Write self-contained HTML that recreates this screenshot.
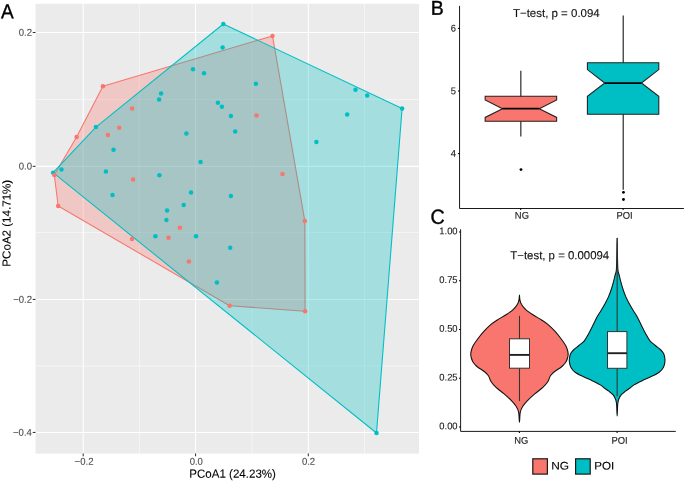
<!DOCTYPE html>
<html><head><meta charset="utf-8"><title>PCoA</title><style>
html,body{margin:0;padding:0;background:#fff;}
body{width:685px;height:481px;overflow:hidden;}
svg{display:block;will-change:transform;}
text{font-family:"Liberation Sans",sans-serif;text-rendering:geometricPrecision;font-kerning:none;}
.tk{fill:#4D4D4D;stroke:#4D4D4D;stroke-width:0.12px;}
.tkb{fill:#1a1a1a;stroke:#1a1a1a;stroke-width:0.12px;}
.ttl{fill:#000;stroke:#000;stroke-width:0.1px;}
.lbl{fill:#000;stroke:#000;stroke-width:0.35px;}
.ann{fill:#111;stroke:#111;stroke-width:0.12px;}
.leg{fill:#000;stroke:#000;stroke-width:0.12px;}
</style></head>
<body>
<svg width="685" height="481" viewBox="0 0 685 481">
<rect x="35.5" y="3.8" width="383.50" height="449.80" fill="#EBEBEB"/>
<line x1="139.40" y1="3.8" x2="139.40" y2="453.6" stroke="#fff" stroke-width="0.53"/>
<line x1="251.95" y1="3.8" x2="251.95" y2="453.6" stroke="#fff" stroke-width="0.53"/>
<line x1="364.45" y1="3.8" x2="364.45" y2="453.6" stroke="#fff" stroke-width="0.53"/>
<line x1="35.5" y1="99.45" x2="419.0" y2="99.45" stroke="#fff" stroke-width="0.53"/>
<line x1="35.5" y1="232.55" x2="419.0" y2="232.55" stroke="#fff" stroke-width="0.53"/>
<line x1="35.5" y1="366.00" x2="419.0" y2="366.00" stroke="#fff" stroke-width="0.53"/>
<line x1="83.20" y1="3.8" x2="83.20" y2="453.6" stroke="#fff" stroke-width="1.07"/>
<line x1="195.55" y1="3.8" x2="195.55" y2="453.6" stroke="#fff" stroke-width="1.07"/>
<line x1="308.30" y1="3.8" x2="308.30" y2="453.6" stroke="#fff" stroke-width="1.07"/>
<line x1="35.5" y1="32.50" x2="419.0" y2="32.50" stroke="#fff" stroke-width="1.07"/>
<line x1="35.5" y1="166.35" x2="419.0" y2="166.35" stroke="#fff" stroke-width="1.07"/>
<line x1="35.5" y1="299.45" x2="419.0" y2="299.45" stroke="#fff" stroke-width="1.07"/>
<line x1="35.5" y1="432.45" x2="419.0" y2="432.45" stroke="#fff" stroke-width="1.07"/>
<polygon points="102.90,86.20 76.60,137.10 54.30,175.00 58.20,206.00 229.60,305.70 305.10,311.30 304.80,220.90 272.50,35.90" fill="#F8766D" fill-opacity="0.3" stroke="#F8766D" stroke-width="1.07" stroke-linejoin="round"/>
<polygon points="223.30,24.00 402.10,108.40 376.50,433.00 53.10,172.70 95.90,127.10" fill="#00BFC4" fill-opacity="0.3" stroke="#00BFC4" stroke-width="1.07" stroke-linejoin="round"/>
<circle cx="223.3" cy="24.0" r="2.25" fill="#00BFC4"/>
<circle cx="402.1" cy="108.4" r="2.25" fill="#00BFC4"/>
<circle cx="376.5" cy="433.0" r="2.25" fill="#00BFC4"/>
<circle cx="53.1" cy="172.7" r="2.25" fill="#00BFC4"/>
<circle cx="95.9" cy="127.1" r="2.25" fill="#00BFC4"/>
<circle cx="61.5" cy="169.5" r="2.25" fill="#00BFC4"/>
<circle cx="113.5" cy="149.8" r="2.25" fill="#00BFC4"/>
<circle cx="159.1" cy="99.5" r="2.25" fill="#00BFC4"/>
<circle cx="161.1" cy="93.5" r="2.25" fill="#00BFC4"/>
<circle cx="186.4" cy="133.4" r="2.25" fill="#00BFC4"/>
<circle cx="193" cy="69.2" r="2.25" fill="#00BFC4"/>
<circle cx="222.6" cy="47.6" r="2.25" fill="#00BFC4"/>
<circle cx="204" cy="73.2" r="2.25" fill="#00BFC4"/>
<circle cx="255.9" cy="83.8" r="2.25" fill="#00BFC4"/>
<circle cx="217.9" cy="102.8" r="2.25" fill="#00BFC4"/>
<circle cx="221.9" cy="106.8" r="2.25" fill="#00BFC4"/>
<circle cx="230.9" cy="116.1" r="2.25" fill="#00BFC4"/>
<circle cx="235.2" cy="131.4" r="2.25" fill="#00BFC4"/>
<circle cx="316.4" cy="142" r="2.25" fill="#00BFC4"/>
<circle cx="355.5" cy="89.8" r="2.25" fill="#00BFC4"/>
<circle cx="367.2" cy="95.4" r="2.25" fill="#00BFC4"/>
<circle cx="347.2" cy="114.4" r="2.25" fill="#00BFC4"/>
<circle cx="105.9" cy="171.6" r="2.25" fill="#00BFC4"/>
<circle cx="159.4" cy="175.3" r="2.25" fill="#00BFC4"/>
<circle cx="112.5" cy="194.9" r="2.25" fill="#00BFC4"/>
<circle cx="191" cy="192.6" r="2.25" fill="#00BFC4"/>
<circle cx="183.7" cy="204.9" r="2.25" fill="#00BFC4"/>
<circle cx="167.1" cy="210.5" r="2.25" fill="#00BFC4"/>
<circle cx="166.4" cy="219.9" r="2.25" fill="#00BFC4"/>
<circle cx="155.4" cy="236.2" r="2.25" fill="#00BFC4"/>
<circle cx="200.6" cy="162" r="2.25" fill="#00BFC4"/>
<circle cx="230.9" cy="195.9" r="2.25" fill="#00BFC4"/>
<circle cx="196" cy="236.2" r="2.25" fill="#00BFC4"/>
<circle cx="230.2" cy="247.8" r="2.25" fill="#00BFC4"/>
<circle cx="216.9" cy="282.4" r="2.25" fill="#00BFC4"/>
<circle cx="102.9" cy="86.2" r="2.25" fill="#F8766D"/>
<circle cx="76.6" cy="137.1" r="2.25" fill="#F8766D"/>
<circle cx="54.3" cy="175.0" r="2.25" fill="#F8766D"/>
<circle cx="58.2" cy="206.0" r="2.25" fill="#F8766D"/>
<circle cx="229.6" cy="305.7" r="2.25" fill="#F8766D"/>
<circle cx="305.1" cy="311.3" r="2.25" fill="#F8766D"/>
<circle cx="304.8" cy="220.9" r="2.25" fill="#F8766D"/>
<circle cx="272.5" cy="35.9" r="2.25" fill="#F8766D"/>
<circle cx="107.9" cy="135.1" r="2.25" fill="#F8766D"/>
<circle cx="119.2" cy="127.7" r="2.25" fill="#F8766D"/>
<circle cx="132.1" cy="108.4" r="2.25" fill="#F8766D"/>
<circle cx="133.1" cy="179.6" r="2.25" fill="#F8766D"/>
<circle cx="132" cy="239" r="2.25" fill="#F8766D"/>
<circle cx="168.5" cy="237.7" r="2.25" fill="#F8766D"/>
<circle cx="179.9" cy="227.8" r="2.25" fill="#F8766D"/>
<circle cx="188.9" cy="261.5" r="2.25" fill="#F8766D"/>
<circle cx="256.5" cy="115.4" r="2.25" fill="#F8766D"/>
<circle cx="282.5" cy="174" r="2.25" fill="#F8766D"/>
<line x1="32.75" y1="32.50" x2="35.5" y2="32.50" stroke="#333333" stroke-width="1.07"/>
<line x1="32.75" y1="166.35" x2="35.5" y2="166.35" stroke="#333333" stroke-width="1.07"/>
<line x1="32.75" y1="299.45" x2="35.5" y2="299.45" stroke="#333333" stroke-width="1.07"/>
<line x1="32.75" y1="432.45" x2="35.5" y2="432.45" stroke="#333333" stroke-width="1.07"/>
<line x1="83.20" y1="453.6" x2="83.20" y2="456.35" stroke="#333333" stroke-width="1.07"/>
<line x1="195.55" y1="453.6" x2="195.55" y2="456.35" stroke="#333333" stroke-width="1.07"/>
<line x1="308.30" y1="453.6" x2="308.30" y2="456.35" stroke="#333333" stroke-width="1.07"/>
<text class="tk" font-size="9.860" transform="matrix(0.9700,0.0005,0,1,18.81,35.70)">0.2</text>
<text class="tk" font-size="9.860" transform="matrix(0.9700,0.0005,0,1,18.72,169.55)">0.0</text>
<text class="tk" font-size="9.860" transform="matrix(0.9700,0.0005,0,1,13.22,302.65)">−0.2</text>
<text class="tk" font-size="9.860" transform="matrix(0.9700,0.0005,0,1,13.03,435.65)">−0.4</text>
<text class="tk" font-size="9.860" transform="matrix(0.9700,0.0005,0,1,74.61,464.75)">−0.2</text>
<text class="tk" font-size="9.860" transform="matrix(0.9700,0.0005,0,1,189.65,464.75)">0.0</text>
<text class="tk" font-size="9.860" transform="matrix(0.9700,0.0005,0,1,301.90,464.75)">0.2</text>
<text class="ttl" font-size="11.884" transform="matrix(0.9729,0.0005,0,1,189.27,477.75)">PCoA1 (24.23%)</text>
<text class="ttl" font-size="11.594" transform="matrix(0.0005,-0.9996,1,0,10.45,266.63)">PCoA2 (14.71%)</text>
<text class="lbl" font-size="20.232" transform="matrix(0.9406,0.0005,0,1,0.97,18.33)">A</text>
<text class="lbl" font-size="19.942" transform="matrix(0.9804,0.0005,0,1,430.71,14.83)">B</text>
<line x1="520.85" y1="70.8" x2="520.85" y2="136.4" stroke="#111" stroke-width="1.07"/>
<polygon points="485.15,96.20 556.65,96.20 556.65,100.00 539.25,108.70 556.65,117.40 556.65,121.20 485.15,121.20 485.15,117.40 502.55,108.70 485.15,100.00" fill="#F8766D" stroke="#222" stroke-width="1.07" stroke-linejoin="miter"/><line x1="502.55" y1="108.7" x2="539.25" y2="108.7" stroke="#000" stroke-width="1.75"/>
<circle cx="521.0" cy="169.6" r="1.45" fill="#000"/>
<line x1="623.2" y1="15.4" x2="623.2" y2="189.7" stroke="#111" stroke-width="1.07"/>
<polygon points="587.40,62.70 658.80,62.70 658.80,69.60 641.45,83.00 658.80,96.20 658.80,114.20 587.40,114.20 587.40,96.20 604.75,83.00 587.40,69.60" fill="#00BFC4" stroke="#222" stroke-width="1.07" stroke-linejoin="miter"/><line x1="604.75" y1="83.0" x2="641.45" y2="83.0" stroke="#000" stroke-width="1.75"/>
<circle cx="623.45" cy="192.35" r="1.45" fill="#000"/>
<circle cx="623.45" cy="199.55" r="1.45" fill="#000"/>
<path d="M459.55,5.9 V208.5 H683.9" fill="none" stroke="#1a1a1a" stroke-width="1.0" stroke-linejoin="miter"/>
<line x1="457.95" y1="153.60" x2="459.55" y2="153.60" stroke="#000" stroke-width="1.07"/>
<line x1="457.95" y1="91.00" x2="459.55" y2="91.00" stroke="#000" stroke-width="1.07"/>
<line x1="457.95" y1="28.40" x2="459.55" y2="28.40" stroke="#000" stroke-width="1.07"/>
<line x1="520.7" y1="208.5" x2="520.7" y2="210.10" stroke="#000" stroke-width="1.07"/>
<line x1="623.1" y1="208.5" x2="623.1" y2="210.10" stroke="#000" stroke-width="1.07"/>
<text class="tkb" font-size="9.750" transform="matrix(0.9650,0.0005,0,1,450.87,31.55)">6</text>
<text class="tkb" font-size="9.750" transform="matrix(0.9650,0.0005,0,1,450.82,94.15)">5</text>
<text class="tkb" font-size="9.750" transform="matrix(0.9650,0.0005,0,1,450.73,156.75)">4</text>
<text class="tkb" font-size="9.750" transform="matrix(0.9650,0.0005,0,1,514.87,218.80)">NG</text>
<text class="tkb" font-size="9.750" transform="matrix(0.9650,0.0005,0,1,616.41,218.80)">POI</text>
<text class="ann" font-size="11.449" transform="matrix(1.0043,0.0005,0,1,512.91,16.95)">T−test, p = 0.094</text>
<text class="lbl" font-size="20.366" transform="matrix(0.9711,0.0005,0,1,430.38,223.83)">C</text>
<path d="M519.45,295.00 C519.55,295.00 519.60,297.60 519.75,298.70 C519.90,299.80 520.17,300.87 520.35,301.60 C520.53,302.33 520.40,302.25 520.85,303.10 C521.30,303.95 522.05,305.45 523.05,306.70 C524.05,307.95 525.13,309.22 526.85,310.60 C528.57,311.98 530.90,313.43 533.35,315.00 C535.80,316.57 539.08,318.40 541.55,320.00 C544.02,321.60 545.93,322.73 548.15,324.60 C550.37,326.47 552.67,328.80 554.85,331.20 C557.03,333.60 559.45,336.60 561.25,339.00 C563.05,341.40 564.62,343.77 565.65,345.60 C566.68,347.43 567.03,348.60 567.45,350.00 C567.87,351.40 568.13,352.67 568.15,354.00 C568.17,355.33 567.90,356.72 567.55,358.00 C567.20,359.28 566.65,360.62 566.05,361.70 C565.45,362.78 564.78,363.58 563.95,364.50 C563.12,365.42 562.60,366.03 561.05,367.20 C559.50,368.37 556.42,370.08 554.65,371.50 C552.88,372.92 551.57,374.03 550.45,375.70 C549.33,377.37 549.22,379.55 547.95,381.50 C546.68,383.45 545.00,385.38 542.85,387.40 C540.70,389.42 537.65,391.37 535.05,393.60 C532.45,395.83 529.32,398.65 527.25,400.80 C525.18,402.95 523.82,404.58 522.65,406.50 C521.48,408.42 520.78,409.67 520.25,412.30 C519.72,414.93 519.72,422.30 519.45,422.30 C519.18,422.30 519.18,414.93 518.65,412.30 C518.12,409.67 517.42,408.42 516.25,406.50 C515.08,404.58 513.72,402.95 511.65,400.80 C509.58,398.65 506.45,395.83 503.85,393.60 C501.25,391.37 498.20,389.42 496.05,387.40 C493.90,385.38 492.22,383.45 490.95,381.50 C489.68,379.55 489.57,377.37 488.45,375.70 C487.33,374.03 486.02,372.92 484.25,371.50 C482.48,370.08 479.40,368.37 477.85,367.20 C476.30,366.03 475.78,365.42 474.95,364.50 C474.12,363.58 473.45,362.78 472.85,361.70 C472.25,360.62 471.70,359.28 471.35,358.00 C471.00,356.72 470.73,355.33 470.75,354.00 C470.77,352.67 471.03,351.40 471.45,350.00 C471.87,348.60 472.22,347.43 473.25,345.60 C474.28,343.77 475.85,341.40 477.65,339.00 C479.45,336.60 481.87,333.60 484.05,331.20 C486.23,328.80 488.53,326.47 490.75,324.60 C492.97,322.73 494.88,321.60 497.35,320.00 C499.82,318.40 503.10,316.57 505.55,315.00 C508.00,313.43 510.33,311.98 512.05,310.60 C513.77,309.22 514.85,307.95 515.85,306.70 C516.85,305.45 517.60,303.95 518.05,303.10 C518.50,302.25 518.37,302.33 518.55,301.60 C518.73,300.87 519.00,299.80 519.15,298.70 C519.30,297.60 519.35,295.00 519.45,295.00Z" fill="#F8766D" stroke="#111" stroke-width="1.07" stroke-linejoin="round"/>
<path d="M617.15,238.00 C617.25,238.00 617.32,250.67 617.45,256.00 C617.58,261.33 617.67,266.83 617.95,270.00 C618.23,273.17 618.68,273.07 619.15,275.00 C619.62,276.93 620.07,279.10 620.75,281.60 C621.43,284.10 622.42,287.50 623.25,290.00 C624.08,292.50 624.78,294.40 625.75,296.60 C626.72,298.80 627.85,300.97 629.05,303.20 C630.25,305.43 631.60,307.75 632.95,310.00 C634.30,312.25 635.77,314.20 637.15,316.70 C638.53,319.20 639.87,322.23 641.25,325.00 C642.63,327.77 644.00,330.67 645.45,333.30 C646.90,335.93 648.30,338.77 649.95,340.80 C651.60,342.83 653.53,343.97 655.35,345.50 C657.17,347.03 659.50,348.70 660.85,350.00 C662.20,351.30 662.83,352.20 663.45,353.30 C664.07,354.40 664.30,355.22 664.55,356.60 C664.80,357.98 665.15,359.80 664.95,361.60 C664.75,363.40 664.32,365.63 663.35,367.40 C662.38,369.17 661.17,370.67 659.15,372.20 C657.13,373.73 654.08,375.18 651.25,376.60 C648.42,378.02 645.03,379.32 642.15,380.70 C639.27,382.08 636.03,383.65 633.95,384.90 C631.87,386.15 631.07,387.15 629.65,388.20 C628.23,389.25 626.87,390.08 625.45,391.20 C624.03,392.32 622.23,393.65 621.15,394.90 C620.07,396.15 619.52,397.23 618.95,398.70 C618.38,400.17 618.05,400.82 617.75,403.70 C617.45,406.58 617.35,416.00 617.15,416.00 C616.95,416.00 616.85,406.58 616.55,403.70 C616.25,400.82 615.92,400.17 615.35,398.70 C614.78,397.23 614.23,396.15 613.15,394.90 C612.07,393.65 610.27,392.32 608.85,391.20 C607.43,390.08 606.07,389.25 604.65,388.20 C603.23,387.15 602.43,386.15 600.35,384.90 C598.27,383.65 595.03,382.08 592.15,380.70 C589.27,379.32 585.88,378.02 583.05,376.60 C580.22,375.18 577.17,373.73 575.15,372.20 C573.13,370.67 571.92,369.17 570.95,367.40 C569.98,365.63 569.55,363.40 569.35,361.60 C569.15,359.80 569.50,357.98 569.75,356.60 C570.00,355.22 570.23,354.40 570.85,353.30 C571.47,352.20 572.10,351.30 573.45,350.00 C574.80,348.70 577.13,347.03 578.95,345.50 C580.77,343.97 582.70,342.83 584.35,340.80 C586.00,338.77 587.40,335.93 588.85,333.30 C590.30,330.67 591.67,327.77 593.05,325.00 C594.43,322.23 595.77,319.20 597.15,316.70 C598.53,314.20 600.00,312.25 601.35,310.00 C602.70,307.75 604.05,305.43 605.25,303.20 C606.45,300.97 607.58,298.80 608.55,296.60 C609.52,294.40 610.22,292.50 611.05,290.00 C611.88,287.50 612.87,284.10 613.55,281.60 C614.23,279.10 614.68,276.93 615.15,275.00 C615.62,273.07 616.07,273.17 616.35,270.00 C616.63,266.83 616.72,261.33 616.85,256.00 C616.98,250.67 617.05,238.00 617.15,238.00Z" fill="#00BFC4" stroke="#111" stroke-width="1.07" stroke-linejoin="round"/>
<line x1="519.5" y1="315.8" x2="519.5" y2="401.0" stroke="#333" stroke-width="1.07"/>
<rect x="509.5" y="338.8" width="20.0" height="29.4" fill="#fff" stroke="#333" stroke-width="1.0"/>
<line x1="509.5" y1="354.9" x2="529.5" y2="354.9" stroke="#222" stroke-width="1.9"/>
<line x1="617.15" y1="238" x2="617.15" y2="396.2" stroke="#333" stroke-width="1.07"/>
<rect x="607.5" y="331.6" width="19.4" height="36.7" fill="#fff" stroke="#333" stroke-width="1.0"/>
<line x1="607.5" y1="353.2" x2="626.9" y2="353.2" stroke="#222" stroke-width="1.9"/>
<path d="M460.6,229.3 V431.4 H675.8" fill="none" stroke="#1a1a1a" stroke-width="1.0" stroke-linejoin="miter"/>
<line x1="459.00" y1="232.00" x2="460.6" y2="232.00" stroke="#000" stroke-width="1.07"/>
<line x1="459.00" y1="280.75" x2="460.6" y2="280.75" stroke="#000" stroke-width="1.07"/>
<line x1="459.00" y1="329.50" x2="460.6" y2="329.50" stroke="#000" stroke-width="1.07"/>
<line x1="459.00" y1="378.25" x2="460.6" y2="378.25" stroke="#000" stroke-width="1.07"/>
<line x1="459.00" y1="427.00" x2="460.6" y2="427.00" stroke="#000" stroke-width="1.07"/>
<line x1="519.4" y1="431.4" x2="519.4" y2="433.00" stroke="#000" stroke-width="1.07"/>
<line x1="617.1" y1="431.4" x2="617.1" y2="433.00" stroke="#000" stroke-width="1.07"/>
<text class="tkb" font-size="9.750" transform="matrix(0.9650,0.0005,0,1,439.28,234.15)">1.00</text>
<text class="tkb" font-size="9.750" transform="matrix(0.9650,0.0005,0,1,439.28,282.90)">0.75</text>
<text class="tkb" font-size="9.750" transform="matrix(0.9650,0.0005,0,1,439.28,331.65)">0.50</text>
<text class="tkb" font-size="9.750" transform="matrix(0.9650,0.0005,0,1,439.28,380.40)">0.25</text>
<text class="tkb" font-size="9.750" transform="matrix(0.9650,0.0005,0,1,439.28,429.15)">0.00</text>
<text class="tkb" font-size="9.750" transform="matrix(0.9650,0.0005,0,1,514.32,443.85)">NG</text>
<text class="tkb" font-size="9.750" transform="matrix(0.9650,0.0005,0,1,611.46,443.85)">POI</text>
<text class="ann" font-size="11.739" transform="matrix(0.9724,0.0005,0,1,510.31,259.25)">T−test, p = 0.00094</text>
<rect x="532.8" y="458.8" width="14.6" height="15.3" fill="#F8766D" stroke="#1a1a1a" stroke-width="1.2"/>
<rect x="575.6" y="458.8" width="14.6" height="15.3" fill="#00BFC4" stroke="#1a1a1a" stroke-width="1.2"/>
<text class="leg" font-size="11.014" transform="matrix(1.0800,0.0005,0,1,551.15,469.55)">NG</text>
<text class="leg" font-size="11.014" transform="matrix(1.0543,0.0005,0,1,594.17,469.55)">POI</text>
</svg>
</body></html>
